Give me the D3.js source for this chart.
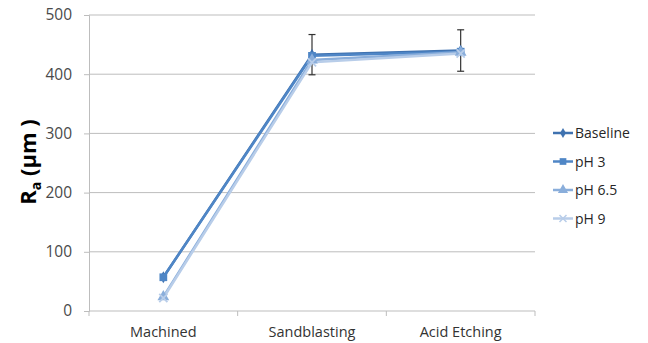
<!DOCTYPE html>
<html>
<head>
<meta charset="utf-8">
<script src="https://cdn.jsdelivr.net/npm/d3@7"></script>
<style>
  body { margin: 0; background: #fff; }
  svg { display: block; }
  text { font-family: "Open Sans", "Liberation Sans", sans-serif; }
</style>
</head>
<body>
<svg id="chart" width="648" height="343"></svg>
<script>
const categories = ['Machined', 'Sandblasting', 'Acid Etching'];
const seriesNames = ['Baseline', 'pH 3', 'pH 6.5', 'pH 9'];
const baseline = [57, 433, 440];
const ph3 = [57, 431, 438];
const ph65 = [24, 424, 437];
const ph9 = [22, 420, 435];
const baselineErr = [0, 34, 35];
const yTicks = [0, 100, 200, 300, 400, 500];

const colors = ['#3f72b0', '#4f86c6', '#8aaedb', '#b8cde9'];
const symbols = [d3.symbolDiamond, d3.symbolSquare, d3.symbolTriangle, d3.symbolX];
const markerSizes = [40, 60, 60, 45];

const series = [baseline, ph3, ph65, ph9].map((vals, i) => ({
  name: seriesNames[i],
  color: colors[i],
  symbol: symbols[i],
  size: markerSizes[i],
  values: vals.map((v, j) => ({ cat: categories[j], value: v }))
}));

const margin = { top: 15, right: 113, bottom: 32, left: 89 };
const width = 648 - margin.left - margin.right;
const height = 343 - margin.top - margin.bottom;

const svg = d3.select('#chart');
const chart = svg.append('g')
  .attr('transform', `translate(${margin.left}, ${margin.top})`);

/*********** Scales *******************/
const xScale = d3.scaleBand()
  .domain(categories)
  .range([0, width]);

const yScale = d3.scaleLinear()
  .domain([0, 500])
  .range([height, 0]);

/*********** Grid *******************/
chart.append('g')
  .selectAll('line')
  .data(yTicks.filter(t => t > 0))
  .join('line')
  .attr('x1', 0)
  .attr('x2', width)
  .attr('y1', d => yScale(d))
  .attr('y2', d => yScale(d))
  .attr('stroke', '#bdbdbd')
  .attr('stroke-width', 1);

/*********** Axes *******************/
const yAxis = chart.append('g')
  .call(d3.axisLeft(yScale).tickValues(yTicks).tickSize(5).tickPadding(12));
yAxis.select('.domain').attr('stroke', '#bdbdbd');
yAxis.selectAll('.tick line').attr('stroke', '#bdbdbd');
yAxis.selectAll('.tick text')
  .attr('fill', '#4a4a4a')
  .style('font-size', '15.5px');

const xAxis = chart.append('g')
  .attr('transform', `translate(0, ${height})`);
xAxis.append('line')
  .attr('x1', 0).attr('x2', width)
  .attr('stroke', '#bdbdbd');
xAxis.selectAll('.cat-tick')
  .data(d3.range(categories.length + 1))
  .join('line')
  .attr('class', 'cat-tick')
  .attr('x1', i => i * xScale.step())
  .attr('x2', i => i * xScale.step())
  .attr('y1', 0).attr('y2', 5)
  .attr('stroke', '#bdbdbd');
xAxis.selectAll('.cat-label')
  .data(categories)
  .join('text')
  .attr('class', 'cat-label')
  .attr('x', d => xScale(d) + xScale.bandwidth() / 2)
  .attr('y', 26)
  .attr('text-anchor', 'middle')
  .attr('fill', '#333')
  .style('font-size', '14.5px')
  .text(d => d);

/*********** Error bars (Baseline) *******************/
const cx = d => xScale(d) + xScale.bandwidth() / 2;
const errData = categories.map((c, i) => ({ cat: c, value: baseline[i], err: baselineErr[i] }))
  .filter(d => d.err > 0);
const eb = chart.append('g').attr('stroke', '#333').attr('stroke-width', 1.2);
eb.selectAll('.eb-v').data(errData).join('line')
  .attr('x1', d => cx(d.cat)).attr('x2', d => cx(d.cat))
  .attr('y1', d => yScale(d.value + d.err)).attr('y2', d => yScale(d.value - d.err));
eb.selectAll('.eb-t').data(errData.flatMap(d => [d.value + d.err, d.value - d.err].map(v => ({ cat: d.cat, v }))))
  .join('line')
  .attr('x1', d => cx(d.cat) - 3.5).attr('x2', d => cx(d.cat) + 3.5)
  .attr('y1', d => yScale(d.v)).attr('y2', d => yScale(d.v));

/*********** Lines *******************/
const line = d3.line()
  .x(d => cx(d.cat))
  .y(d => yScale(d.value));

series.forEach(s => {
  chart.append('path')
    .datum(s.values)
    .attr('d', line)
    .attr('fill', 'none')
    .attr('stroke', s.color)
    .attr('stroke-width', 2.5);
});

series.forEach(s => {
  const isX = s.symbol === d3.symbolX;
  chart.append('g')
    .selectAll('path')
    .data(s.values)
    .join('path')
    .attr('transform', d => `translate(${cx(d.cat)}, ${yScale(d.value)})`)
    .attr('d', d3.symbol().type(s.symbol).size(s.size))
    .attr('fill', isX ? 'none' : s.color)
    .attr('stroke', isX ? s.color : 'none')
    .attr('stroke-width', 1.8);
});

/*********** Legend *******************/
const legend = svg.append('g')
  .attr('transform', 'translate(553, 133)');
const items = legend.selectAll('g')
  .data(series)
  .join('g')
  .attr('transform', (d, i) => `translate(0, ${i * 28.5})`);
items.append('line')
  .attr('x1', 0).attr('x2', 20)
  .attr('stroke', d => d.color)
  .attr('stroke-width', 2.5);
items.append('path')
  .attr('transform', 'translate(10, 0)')
  .attr('d', d => d3.symbol().type(d.symbol).size(d.size * 0.75)())
  .attr('fill', d => d.symbol === d3.symbolX ? 'none' : d.color)
  .attr('stroke', d => d.symbol === d3.symbolX ? d.color : 'none')
  .attr('stroke-width', 1.5);
items.append('text')
  .attr('x', 22)
  .attr('y', 5)
  .attr('fill', '#262626')
  .style('font-size', '14px')
  .text(d => d.name);

/*********** Y label *******************/
const yLabel = svg.append('text')
  .attr('transform', 'translate(36, 162) rotate(-90)')
  .attr('text-anchor', 'middle')
  .style('font-size', '22px')
  .style('font-weight', 'bold')
  .attr('fill', '#000');
yLabel.append('tspan').text('R');
yLabel.append('tspan').attr('dy', 5).style('font-size', '14px').text('a');
yLabel.append('tspan').attr('dy', -5).text(' (μm )');
</script>
</body>
</html>
